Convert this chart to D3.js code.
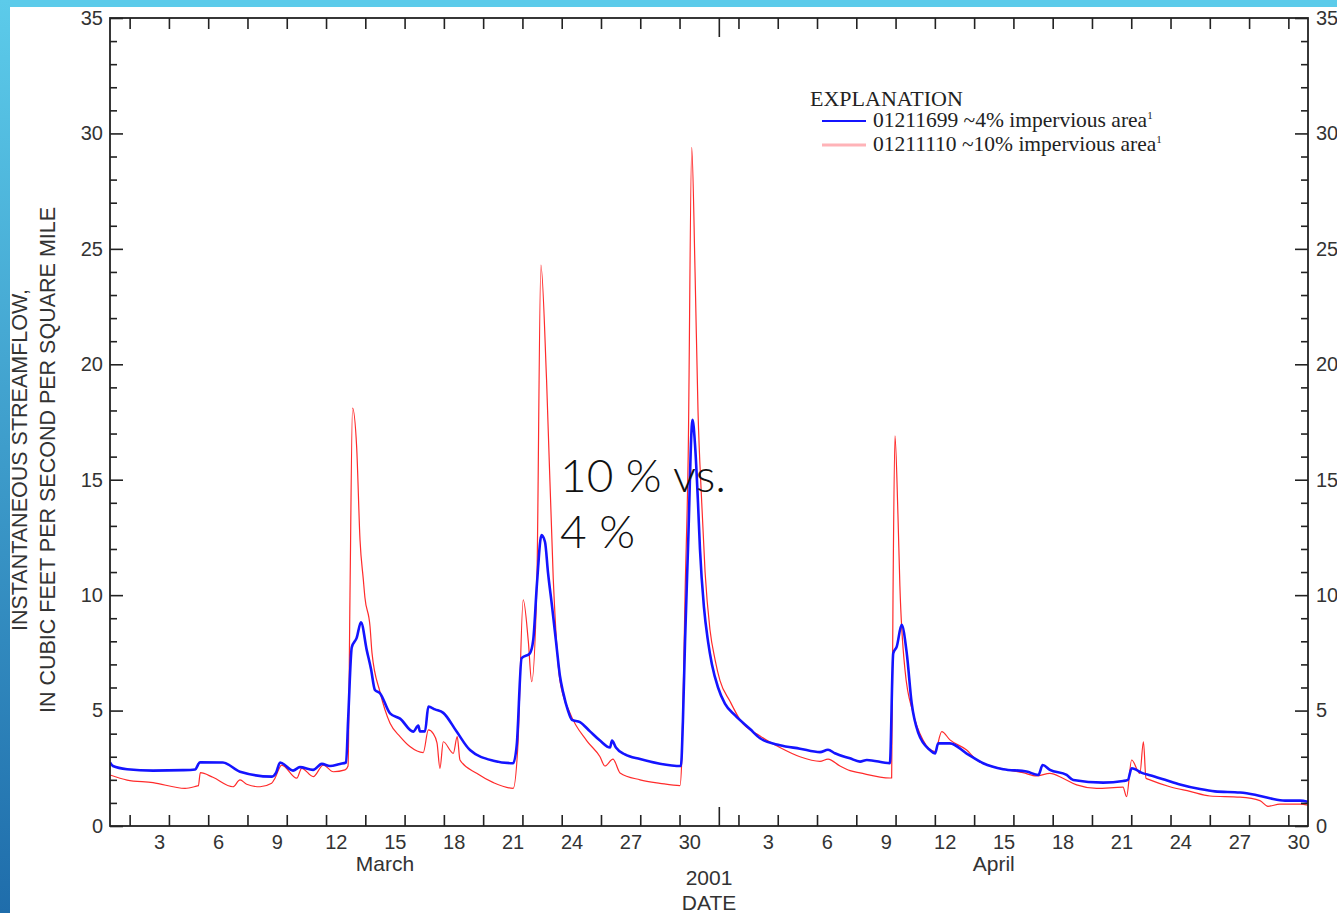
<!DOCTYPE html>
<html><head><meta charset="utf-8">
<script src="https://cdn.jsdelivr.net/npm/d3@7"></script>
<style>html,body{margin:0;padding:0;background:#fff;overflow:hidden}</style>
</head><body><svg id="c" width="1337" height="913"></svg>
<script>
// ---- data: days since 1 March 2001 00:00 and streamflow (ft3/s/mi2)
const daysBlue = [0,0.15,0.87,2.19,3.72,4.33,4.58,5.75,6.62,8.25,8.45,8.66,9.32,9.67,10.34,10.79,11.20,11.71,12.02,12.13,12.31,12.56,12.78,13.07,13.29,13.49,13.75,14.26,14.77,15.44,15.70,15.78,16.04,16.21,16.55,16.97,17.65,18.33,19.52,20.53,20.71,20.96,21.38,21.55,21.74,21.97,22.15,22.30,22.51,22.71,22.91,23.07,23.32,23.52,23.93,24.44,24.95,25.46,25.56,25.76,26.22,26.99,28.00,29.07,29.17,29.28,29.43,29.66,29.79,29.94,30.04,30.24,30.45,30.65,30.96,31.31,31.82,32.59,33.10,34.11,35.13,36.15,36.56,36.91,37.68,38.19,38.54,39.71,39.88,40.06,40.31,40.57,40.82,41.16,41.75,42.01,42.17,42.77,43.62,44.46,45.48,46.67,47.27,47.49,47.86,48.71,49.05,50.57,51.59,51.83,52.02,52.61,52.95,53.72,54.48,55.50,56.26,57.54,58.30,59.06,59.83,60.59,61.00];
const flowBlue = [2.75,2.6,2.46,2.40,2.42,2.45,2.76,2.75,2.35,2.14,2.3,2.75,2.40,2.55,2.43,2.69,2.6,2.69,2.75,4.7,7.74,8.15,8.82,7.63,6.8,5.89,5.75,4.88,4.65,4.09,4.35,4.1,4.1,5.17,5.05,4.9,4.09,3.29,2.83,2.72,3.5,7.27,7.48,8.06,10.5,12.6,12.3,11,9.5,8,6.5,5.8,5,4.6,4.5,4.1,3.7,3.4,3.7,3.4,3.1,2.9,2.7,2.6,4.5,8,12,17.6,16.5,14,12,9.5,8,7,6,5.3,4.8,4.2,3.8,3.5,3.35,3.2,3.3,3.15,2.93,2.79,2.86,2.72,7.48,7.77,8.71,7.48,5.32,4.02,3.29,3.14,3.58,3.58,3.14,2.72,2.46,2.36,2.21,2.64,2.43,2.21,1.99,1.88,1.95,2.0,2.5,2.28,2.2,2.0,1.8,1.6,1.5,1.45,1.35,1.2,1.1,1.1,1.05];
const daysRed = [0,0.87,2.19,3.82,4.41,4.50,4.60,5.24,6.26,6.62,6.96,7.64,8.23,8.40,8.74,9.51,9.76,10.35,10.86,11.37,11.97,12.12,12.22,12.35,12.56,12.73,12.90,12.98,13.24,13.34,13.75,14.26,14.77,15.27,15.95,16.21,16.46,16.65,16.80,16.97,17.48,17.68,17.82,18.67,19.52,20.53,20.77,21.04,21.30,21.47,21.73,21.94,22.23,22.57,22.91,23.42,24.27,24.95,25.20,25.61,25.97,26.99,28.00,29.02,29.12,29.28,29.44,29.62,29.79,29.94,30.13,30.30,30.55,30.81,31.06,31.57,32.08,33.10,34.11,35.13,36.15,36.56,37.17,37.68,38.19,39.71,39.80,39.87,39.97,40.12,40.22,40.48,40.89,41.39,42.01,42.35,42.77,43.62,44.13,45.31,46.49,47.18,47.86,48.52,49.22,50.24,51.58,51.76,52.02,52.44,52.62,52.75,52.95,53.97,54.99,56.01,57.54,58.55,58.96,59.57,60.59,61.00];
const flowRed = [2.21,1.99,1.88,1.63,1.73,1.75,2.31,2.11,1.70,2.0,1.81,1.70,1.85,2.07,2.64,2.07,2.5,2.14,2.64,2.35,2.43,2.6,10,18.1,16.4,12.4,10.66,9.9,8.64,7.5,5.8,4.45,3.87,3.44,3.18,4.16,4.0,3.6,2.5,3.65,3.15,3.87,2.86,2.28,1.88,1.63,3.5,9.8,8.0,6.25,10.3,24.3,19.3,10.7,6.3,4.9,3.7,3.0,2.6,2.9,2.3,2.0,1.85,1.75,3,10,16,29.4,24,18,14,11,8.5,7.2,6.3,5.4,4.6,3.9,3.4,3.0,2.8,2.9,2.6,2.4,2.3,2.08,2.08,10,16.9,13.5,10.4,6.76,4.9,3.73,3.22,4.09,3.73,3.29,2.86,2.5,2.31,2.17,2.28,2.07,1.78,1.63,1.68,1.27,2.86,2.28,3.65,2.07,2.0,1.7,1.5,1.3,1.25,1.1,0.85,0.95,0.95,0.9];

const yMajorTicks = [0,5,10,15,20,25,30,35];
const yMinorTicks = d3.range(0,36).filter(v => v % 5 !== 0);
const marchTickDays = [2,4,6,8,10,12,14,16,18,20,22,24,26,28,30];
const aprilTickDays = [1,2,4,6,8,10,12,14,16,18,20,22,24,26,28,30];
const marchLabelDays = [3,6,9,12,15,18,21,24,27,30];
const aprilLabelDays = [3,6,9,12,15,18,21,24,27,30];
const months = ["March","April"];
const seriesNames = ["01211699 ~4% impervious area","01211110 ~10% impervious area"];
const seriesColors = ["#1414ff","#ff2b2b"];

const W = 1337, H = 913;
const svg = d3.select("#c");
const defs = svg.append("defs");
const grad = defs.append("linearGradient").attr("id","lb").attr("x1",0).attr("x2",0).attr("y1",0).attr("y2",1);
grad.append("stop").attr("offset","0%").attr("stop-color","#5ccbea");
grad.append("stop").attr("offset","100%").attr("stop-color","#1f6dab");
svg.append("rect").attr("x",0).attr("y",0).attr("width",W).attr("height",H).attr("fill","#fff");
svg.append("rect").attr("x",0).attr("y",0).attr("width",W).attr("height",7).attr("fill","#5ccbea");
svg.append("rect").attr("x",0).attr("y",0).attr("width",10).attr("height",H).attr("fill","url(#lb)");

const L = 110, R = 1308, T = 18, B = 826;
const x = d3.scaleLinear().domain([0,61]).range([L,R]);
const y = d3.scaleLinear().domain([0,35]).range([B,T]);

const tickDays = marchTickDays.map(d => d-1).concat(aprilTickDays.map(d => 31+d-1));
const monthStart = 31;
const labelDays = marchLabelDays.map(d => d-0.5).concat(aprilLabelDays.map(d => 31+d-0.5));
const labelText = d => String(d < 31 ? Math.round(d+0.5) : Math.round(d-31+0.5));

const font = "'Liberation Sans', Arial, Helvetica, sans-serif";
const axisColor = "#222";
const textColor = "#333";

function styleAxis(g){
  g.select(".domain").remove();
  g.selectAll("line").attr("stroke",axisColor).attr("stroke-width",1.6);
  g.selectAll("text").attr("fill",textColor).attr("font-family",font).attr("font-size",20);
}

// data lines (clipped to plot)
defs.append("clipPath").attr("id","pc").append("rect").attr("x",L).attr("y",T).attr("width",R-L).attr("height",B-T);
const line = d3.line().x(d => x(d[0])).y(d => y(d[1])).curve(d3.curveMonotoneX);
const redData = daysRed.map((d,i) => [d, flowRed[i]]);
const blueData = daysBlue.map((d,i) => [d, flowBlue[i]]);
const plot = svg.append("g").attr("clip-path","url(#pc)");
plot.append("path").datum(redData).attr("d",line).attr("fill","none").attr("stroke",seriesColors[1]).attr("stroke-width",1.2).attr("stroke-linejoin","round");
plot.append("path").datum(blueData).attr("d",line).attr("fill","none").attr("stroke",seriesColors[0]).attr("stroke-width",2.6).attr("stroke-linejoin","round");

// frame
svg.append("rect").attr("x",L).attr("y",T).attr("width",R-L).attr("height",B-T).attr("fill","none").attr("stroke",axisColor).attr("stroke-width",1.8);

// bottom ticks
const gb = svg.append("g").attr("transform",`translate(0,${B})`)
  .call(d3.axisBottom(x).tickValues(tickDays).tickSizeInner(-11).tickSizeOuter(0).tickFormat(""));
styleAxis(gb);
gb.selectAll(".tick line").filter(d => d === monthStart).attr("y2",-19);
// top ticks
const gt = svg.append("g").attr("transform",`translate(0,${T})`)
  .call(d3.axisTop(x).tickValues(tickDays).tickSizeInner(-11).tickSizeOuter(0).tickFormat(""));
styleAxis(gt);
gt.selectAll(".tick line").filter(d => d === monthStart).attr("y2",19);
// bottom labels
const gl = svg.append("g").attr("transform",`translate(0,${B})`)
  .call(d3.axisBottom(x).tickValues(labelDays).tickSize(0).tickPadding(9).tickFormat(labelText));
styleAxis(gl);
gl.selectAll("line").remove();

// left axis
const gLm = svg.append("g").attr("transform",`translate(${L},0)`).call(d3.axisLeft(y).tickValues(yMinorTicks).tickSizeInner(-7).tickSizeOuter(0).tickFormat(""));
styleAxis(gLm);
const gL = svg.append("g").attr("transform",`translate(${L},0)`).call(d3.axisLeft(y).tickValues(yMajorTicks).tickSizeInner(-13).tickSizeOuter(0).tickPadding(7).tickFormat(d3.format("d")));
styleAxis(gL);
// right axis
const gRm = svg.append("g").attr("transform",`translate(${R},0)`).call(d3.axisRight(y).tickValues(yMinorTicks).tickSizeInner(-7).tickSizeOuter(0).tickFormat(""));
styleAxis(gRm);
const gR = svg.append("g").attr("transform",`translate(${R},0)`).call(d3.axisRight(y).tickValues(yMajorTicks).tickSizeInner(-13).tickSizeOuter(0).tickPadding(8).tickFormat(d3.format("d")));
styleAxis(gR);

// month labels, year, axis title
const monthCenters = [14, 31+14];
months.forEach((m,i) => {
  svg.append("text").attr("x",x(monthCenters[i])).attr("y",871).attr("text-anchor","middle")
    .attr("font-family",font).attr("font-size",21).attr("fill",textColor).text(m);
});
svg.append("text").attr("x",(L+R)/2).attr("y",885).attr("text-anchor","middle")
  .attr("font-family",font).attr("font-size",21).attr("fill",textColor).text("2001");
svg.append("text").attr("x",(L+R)/2).attr("y",910).attr("text-anchor","middle")
  .attr("font-family",font).attr("font-size",21).attr("fill",textColor).text("DATE");

// y title
const yTitle = ["INSTANTANEOUS STREAMFLOW,","IN CUBIC FEET PER SECOND PER SQUARE MILE"];
const yTitleX = [27, 55];
yTitle.forEach((t,i) => {
  svg.append("text").attr("transform",`translate(${yTitleX[i]},460) rotate(-90)`)
    .attr("text-anchor","middle").attr("font-family",font).attr("font-size",21.5).attr("fill",textColor).text(t);
});

// legend
const serif = "'Liberation Serif', 'Times New Roman', serif";
const lg = svg.append("g");
lg.append("text").attr("x",810).attr("y",106).attr("font-family",serif).attr("font-size",22).attr("fill","#222").text("EXPLANATION");
seriesNames.forEach((n,i) => {
  const yy = 121 + i*24;
  lg.append("line").attr("x1",822).attr("x2",866).attr("y1",yy).attr("y2",yy)
    .attr("stroke", i===0 ? seriesColors[0] : "#ffb3b8").attr("stroke-width", i===0 ? 2.2 : 3);
  const t = lg.append("text").attr("x",873).attr("y",yy+6).attr("font-family",serif).attr("font-size",21.5).attr("fill","#222");
  t.append("tspan").text(n);
  t.append("tspan").attr("font-size",11).attr("dy",-8).text("1");
});

// annotation
const ann = ["10 % vs.","4 %"];
ann.forEach((t,i) => {
  svg.append("text").attr("x",560).attr("y",492 + i*56).attr("font-family","Lato, 'Noto Sans', sans-serif")
    .attr("font-weight",300).attr("font-size",46).attr("fill","#111").text(t);
});
</script></body></html>
